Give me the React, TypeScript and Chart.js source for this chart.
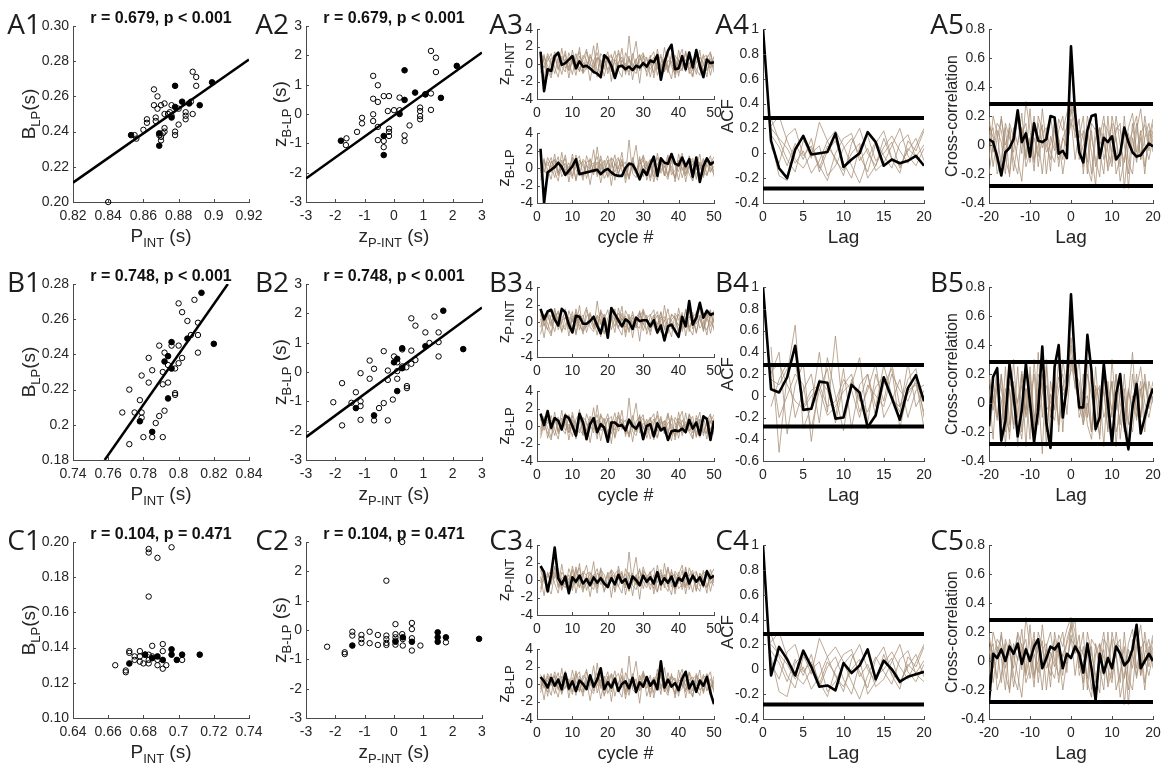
import React, { useEffect, useRef } from "react";
import { Chart, registerables } from "chart.js";
Chart.register(...registerables);

const FONT = "'Liberation Sans', Arial, Helvetica, sans-serif";
const LETTER_FONT = "'Open Sans', 'Noto Sans', sans-serif";
const TEXT = "#262626";
const AXIS = "#4a4a4a";
const TAN = "rgba(165,140,115,0.75)";
const PL = 85, PT = 45, PR = 35, PB = 48;
const YW = 45; // fixed width of the y tick-label band
const XH = 24; // fixed height of the x tick-label band

// ---------------- tick labels ----------------
const A1_XT = [0.82, 0.84, 0.86, 0.88, 0.9, 0.92];
const A1_XL = ["0.82", "0.84", "0.86", "0.88", "0.9", "0.92"];
const A1_YT = [0.2, 0.22, 0.24, 0.26, 0.28, 0.3];
const A1_YL = ["0.20", "0.22", "0.24", "0.26", "0.28", "0.30"];
const B1_XT = [0.74, 0.76, 0.78, 0.8, 0.82, 0.84];
const B1_XL = ["0.74", "0.76", "0.78", "0.8", "0.82", "0.84"];
const B1_YT = [0.18, 0.2, 0.22, 0.24, 0.26, 0.28];
const B1_YL = ["0.18", "0.2", "0.22", "0.24", "0.26", "0.28"];
const C1_XT = [0.64, 0.66, 0.68, 0.7, 0.72, 0.74];
const C1_XL = ["0.64", "0.66", "0.68", "0.7", "0.72", "0.74"];
const C1_YT = [0.1, 0.12, 0.14, 0.16, 0.18, 0.2];
const C1_YL = ["0.10", "0.12", "0.14", "0.16", "0.18", "0.20"];
const Z_T = [-3, -2, -1, 0, 1, 2, 3];
const Z_L = ["-3", "-2", "-1", "0", "1", "2", "3"];
const TS_XT = [0, 10, 20, 30, 40, 50];
const TS_XL = ["0", "10", "20", "30", "40", "50"];
const TS_YT = [-4, -2, 0, 2, 4];
const TS_YL = ["-4", "-2", "0", "2", "4"];
const ACF_XT = [0, 5, 10, 15, 20];
const ACF_XL = ["0", "5", "10", "15", "20"];
const ACF_YT = [-0.4, -0.2, 0, 0.2, 0.4, 0.6, 0.8, 1];
const ACF_YL = ["-0.4", "-0.2", "0", "0.2", "0.4", "0.6", "0.8", "1"];
const ACFB_YT = [-0.6, -0.4, -0.2, 0, 0.2, 0.4, 0.6, 0.8, 1];
const ACFB_YL = ["-0.6", "-0.4", "-0.2", "0", "0.2", "0.4", "0.6", "0.8", "1"];
const CC_XT = [-20, -10, 0, 10, 20];
const CC_XL = ["-20", "-10", "0", "10", "20"];
const CC_YT = [-0.4, -0.2, 0, 0.2, 0.4, 0.6, 0.8];
const CC_YL = ["-0.4", "-0.2", "0", "0.2", "0.4", "0.6", "0.8"];

const TITLES = ["r = 0.679, p < 0.001", "r = 0.748, p < 0.001", "r = 0.104, p = 0.471"];

// ---------------- scatter data ----------------
const A1_OPEN: [number, number][] = [
  [0.84, 0.2], [0.855, 0.238], [0.856, 0.236], [0.86, 0.241], [0.862, 0.245], [0.862, 0.247],
  [0.866, 0.264], [0.866, 0.255], [0.867, 0.246], [0.867, 0.248], [0.868, 0.26], [0.868, 0.253],
  [0.869, 0.238], [0.87, 0.255], [0.87, 0.235], [0.87, 0.237], [0.871, 0.239], [0.872, 0.256],
  [0.872, 0.25], [0.872, 0.242], [0.872, 0.24], [0.874, 0.25], [0.875, 0.251], [0.876, 0.255],
  [0.876, 0.249], [0.878, 0.24], [0.878, 0.238], [0.88, 0.244], [0.88, 0.253], [0.884, 0.251],
  [0.884, 0.249], [0.884, 0.247], [0.887, 0.257], [0.888, 0.25], [0.888, 0.274], [0.89, 0.271], [0.89, 0.266],
];
const A1_FILL: [number, number][] = [
  [0.853, 0.238], [0.869, 0.239], [0.869, 0.232], [0.876, 0.248], [0.878, 0.266],
  [0.878, 0.254], [0.882, 0.257], [0.886, 0.256], [0.892, 0.255], [0.899, 0.268],
];
const A1_REG: [number, number][] = [[0.82, 0.211], [0.92, 0.281]];

const A2_OPEN: [number, number][] = [
  [-1.62, -0.83], [-1.64, -1.06], [-1.09, -0.13], [-1.09, -0.32], [-1.26, -0.61], [-0.71, 1.3],
  [-0.71, 0.52], [-0.71, -0.01], [-0.71, -0.24], [-0.55, 0.98], [-0.55, 0.41], [-0.55, -0.44],
  [-0.55, -0.89], [-0.35, 0.61], [-0.35, -0.92], [-0.35, -1.13], [-0.17, 0.61], [-0.17, -0.5],
  [-0.17, -0.61], [-0.17, -0.75], [-0.21, 0.1], [0.0, 0.13], [0.19, 0.56], [0.19, 0.13],
  [0.36, -0.73], [0.36, -0.92], [0.53, -0.39], [0.89, 0.22], [0.89, 0.1], [0.89, -0.07],
  [0.89, -0.18], [1.07, 0.67], [1.26, 0.7], [1.26, 0.14], [1.26, 2.15], [1.43, 1.92], [1.43, 1.43],
];
const A2_FILL: [number, number][] = [
  [-1.81, -0.91], [-0.35, -0.75], [-0.35, -1.4], [0.19, 0.0], [0.36, 1.49], [0.36, 0.48],
  [0.72, 0.73], [1.07, 0.67], [1.6, 0.55], [2.14, 1.64],
];
const A2_REG: [number, number][] = [[-3, -2.2], [3, 2.1]];

const B1_OPEN: [number, number][] = [
  [0.772, 0.189], [0.768, 0.207], [0.772, 0.22], [0.775, 0.207], [0.778, 0.214], [0.779, 0.207],
  [0.779, 0.204], [0.78, 0.193], [0.779, 0.228], [0.783, 0.238], [0.783, 0.224], [0.785, 0.231],
  [0.785, 0.193], [0.787, 0.201], [0.789, 0.245], [0.789, 0.205], [0.791, 0.23], [0.791, 0.223],
  [0.792, 0.208], [0.792, 0.241], [0.794, 0.224], [0.791, 0.193], [0.794, 0.234], [0.796, 0.245],
  [0.798, 0.232], [0.798, 0.218], [0.798, 0.217], [0.8, 0.269], [0.8, 0.245], [0.8, 0.235],
  [0.802, 0.264], [0.802, 0.238], [0.805, 0.259], [0.807, 0.251], [0.809, 0.271], [0.811, 0.258],
  [0.811, 0.251], [0.811, 0.241],
];
const B1_FILL: [number, number][] = [
  [0.778, 0.202], [0.785, 0.196], [0.792, 0.236], [0.794, 0.239], [0.794, 0.215],
  [0.796, 0.247], [0.796, 0.232], [0.805, 0.249], [0.813, 0.275], [0.82, 0.246],
];
const B1_REG: [number, number][] = [[0.758, 0.18], [0.828, 0.28]];

const B2_OPEN: [number, number][] = [
  [-2.07, -1.03], [-1.77, -0.38], [-1.77, -1.82], [-1.45, -1.05], [-1.3, -0.69], [-1.14, -0.04],
  [-1.14, -1.0], [-1.14, -1.16], [-1.14, -1.63], [-0.83, 0.39], [-0.83, -0.23], [-0.68, 0.11],
  [-0.68, -1.65], [-0.51, -1.23], [-0.35, -1.06], [-0.35, 0.71], [-0.21, 0.05], [-0.21, -0.27],
  [-0.21, -1.65], [0.0, 0.53], [-0.04, -0.94], [0.11, 0.33], [0.11, -0.23], [0.11, 0.03],
  [0.28, 0.19], [0.28, 0.77], [0.42, 0.16], [0.44, -0.48], [0.44, -0.55], [0.59, 0.73],
  [0.59, 1.83], [0.59, 0.28], [0.73, 1.58], [0.73, 0.41], [1.07, 1.35], [1.21, 0.99],
  [1.38, 1.89], [1.52, 1.35], [1.52, 1.02], [1.52, 0.53],
];
const B2_FILL: [number, number][] = [
  [-1.3, -1.23], [-0.68, -1.48], [0.0, 0.33], [0.11, 0.45], [0.11, -0.65], [0.28, 0.81],
  [0.28, 0.13], [1.07, 0.88], [1.68, 2.09], [2.36, 0.78],
];
const B2_REG: [number, number][] = [[-3, -2.22], [3, 2.2]];

const C1_OPEN: [number, number][] = [
  [0.664, 0.13], [0.67, 0.126], [0.67, 0.127], [0.672, 0.138], [0.672, 0.137], [0.675, 0.135],
  [0.675, 0.133], [0.678, 0.138], [0.678, 0.135], [0.678, 0.132], [0.68, 0.131], [0.681, 0.136],
  [0.683, 0.196], [0.683, 0.194], [0.683, 0.169], [0.683, 0.136], [0.683, 0.133], [0.683, 0.131],
  [0.685, 0.141], [0.685, 0.135], [0.688, 0.191], [0.688, 0.133], [0.688, 0.13], [0.691, 0.142],
  [0.691, 0.138], [0.691, 0.128], [0.693, 0.13], [0.696, 0.197], [0.702, 0.133],
];
const C1_FILL: [number, number][] = [
  [0.672, 0.131], [0.681, 0.136], [0.685, 0.134], [0.688, 0.135], [0.691, 0.133],
  [0.696, 0.139], [0.696, 0.136], [0.699, 0.133], [0.702, 0.136], [0.712, 0.136],
];

const C2_OPEN: [number, number][] = [
  [-2.28, -0.57], [-1.68, -0.76], [-1.68, -0.82], [-1.42, -0.06], [-1.42, -0.19], [-1.11, -0.17],
  [-1.11, -0.31], [-1.11, -0.44], [-0.83, -0.06], [-0.83, -0.45], [-0.55, -0.17], [-0.55, -0.51],
  [-0.26, 1.68], [-0.26, -0.19], [-0.26, -0.31], [-0.26, -0.44], [-0.26, -0.51], [0.05, 0.2],
  [0.05, -0.14], [0.05, -0.25], [0.05, -0.36], [0.05, -0.5], [0.28, 3.0], [0.28, -0.14],
  [0.3, -0.31], [0.3, -0.53], [0.61, 0.24], [0.61, 0.03], [0.61, -0.28], [0.61, -0.7],
  [0.9, -0.53], [1.77, -0.42],
];
const C2_FILL: [number, number][] = [
  [-1.42, -0.53], [0.05, -0.4], [0.3, -0.25], [0.61, -0.4], [1.49, -0.08], [1.49, -0.25],
  [1.49, -0.4], [1.77, -0.25], [2.9, -0.3],
];

// ---------------- time series (cycle 1..50) ----------------
const A3_TOP = [1.4, -3.1, -0.6, -0.8, 0.9, 1.3, -0.1, 0.1, 0.5, 0.9, -0.5, 0.3, -0.3, -0.2, -0.5, -0.9, -1.1, -1.5, 1.0, 0.6, -0.2, -1.6, -0.3, -0.2, -0.6, -0.3, -0.7, -0.2, -0.4, 0.1, -0.3, 0.4, 0.2, 1.0, -1.8, 0.2, 1.5, 2.2, -0.6, -0.5, 0.9, -0.6, 1.3, -0.4, 1.6, -0.2, -1.5, 0.5, 0.1, 0.2];
const A3_BOT = [2.2, -4.0, -0.5, -0.2, 0.1, 0.6, 0.1, -0.8, -0.3, 0.2, 1.0, -0.7, -0.6, -0.5, -0.4, -0.3, -0.2, -0.7, -0.3, -0.1, -0.5, -0.8, -0.9, -0.9, 0.0, 0.5, 0.4, -0.3, -1.3, -0.2, -0.8, 0.4, 1.3, -0.9, 1.1, 0.6, 0.5, 1.6, 0.5, 0.3, 1.2, 0.2, 1.0, -1.0, 1.2, -1.6, 0.2, 1.1, 0.4, 0.7];
const B3_TOP = [1.5, 0.3, 1.2, 1.4, 0.3, -0.4, 1.5, 1.1, -0.3, -1.2, 0.7, 0.6, -0.2, -0.2, 0.1, 0.6, -0.4, -1.3, 0.4, -1.8, 1.6, 0.9, 0.2, -0.5, 0.3, 0.0, -0.8, 0.5, 0.1, 0.2, 0.2, -0.5, 0.2, -1.2, -0.4, -2.1, -0.5, -0.3, -1.0, -1.7, 0.6, -0.5, 2.4, -0.3, 0.5, 2.2, 0.5, 1.3, 0.8, 1.0];
const B3_BOT = [1.4, 0.1, 1.7, -0.2, 0.9, 0.6, -0.4, 1.2, 0.9, 0.0, -1.1, 1.4, 0.4, -1.5, 0.2, 0.9, -0.7, 0.2, -0.2, -1.8, 0.4, 0.4, 0.0, 0.1, -0.5, 0.7, 0.0, -0.3, 0.4, -1.5, 0.0, 0.2, -1.2, 0.3, -0.5, -0.2, -1.6, -0.6, -0.5, -0.6, -0.3, -0.7, 0.7, -0.3, 0.4, -1.0, 1.1, 0.8, -1.6, 0.6];
const C3_TOP = [1.6, 0.9, -1.3, 0.6, 3.7, 0.2, -0.5, 0.4, -1.5, 0.3, -0.2, 0.5, -0.4, 0.1, -0.6, 0.3, -0.3, 0.2, -0.4, -0.8, 0.2, -0.5, 0.6, -0.3, 0.1, -0.9, 0.4, 0.0, -0.6, 0.5, -0.2, 0.3, -0.4, 0.9, -0.5, 0.2, -0.3, 0.4, -0.7, 0.2, -0.1, 0.8, -0.4, 0.5, -0.2, 0.3, -0.6, 1.0, 0.2, 0.5];
const C3_BOT = [0.8, 0.3, -0.4, 0.7, -0.2, 0.5, -0.6, 1.2, -0.5, 0.3, -0.8, 0.4, 0.0, -0.6, 1.0, -0.3, 0.5, 1.8, -0.6, 0.2, -0.4, 0.6, -0.8, 0.0, 0.3, -0.5, 0.7, -0.9, 0.2, -0.3, 0.8, -0.2, 0.4, -0.6, 2.6, -0.4, 0.5, -0.3, 0.1, -0.7, 0.6, 1.4, -0.5, 0.3, -0.9, 0.4, -0.2, 0.8, -1.0, -2.3];

// thin tan traces of the other subjects (estimated)
const G1 = [0.8, -0.5, 1.2, 0.3, -1.1, 0.6, -0.2, 1.5, -0.8, 0.4, -1.3, 0.9, 0.2, -0.6, 1.1, -0.4, 0.7, -1.7, 0.3, 1.4, -0.9, 0.5, -0.1, 1.8, -1.2, 0.6, 0.0, -0.7, 1.0, -0.3, 0.8, -1.5, 0.4, 1.2, -0.6, 0.2, -1.0, 0.9, 0.5, -1.4, 0.7, -0.2, 1.3, -0.8, 0.1, 1.6, -1.1, 0.4, -0.5, 0.9];
const G2 = [-0.3, 1.1, -1.4, 0.6, 0.9, -0.7, 1.8, -0.5, 0.2, -1.2, 0.8, 1.4, -0.9, 0.3, -0.2, 2.1, -1.0, 0.5, -0.6, 0.9, -2.0, 0.7, 1.2, -0.4, 0.1, -1.3, 0.6, 2.6, -0.8, 0.3, -0.1, 1.0, -1.6, 0.5, 0.8, -0.9, 1.3, -0.3, -1.1, 0.6, 1.7, -0.7, 0.2, -1.4, 0.9, -0.2, 1.1, -0.8, 0.6, -0.4];
const G3 = [1.5, 0.2, -0.8, -1.6, 0.7, 1.0, -0.3, -0.9, 1.3, 0.1, -0.5, 1.9, -1.1, -0.4, 0.8, 0.3, -1.5, 1.2, 0.6, -0.7, 0.4, -1.2, 1.6, 0.0, -0.6, 0.9, -1.8, 0.5, 1.1, -0.2, -0.9, 0.7, 1.4, -1.3, 0.2, 0.6, -0.5, -1.7, 1.0, 0.3, -0.8, 1.5, -0.6, 0.4, -1.2, 0.8, 0.2, -1.5, 1.2, -0.1];
const G4 = [-1.0, 0.6, 0.3, 1.2, -0.4, -1.5, 0.9, 0.2, -0.7, 1.6, -0.2, -0.8, 1.0, 0.5, -1.9, 0.4, 1.3, -0.5, -0.3, 0.7, 1.1, -1.4, 0.2, 0.8, -0.9, 3.2, -0.6, -1.1, 0.4, 0.9, -0.5, 0.2, -1.0, 1.7, -0.3, 0.6, -0.8, 1.2, -1.6, 0.5, 0.1, -0.9, 1.4, 0.3, -0.6, -1.3, 0.8, 1.0, -0.4, 0.2];
const G5 = [0.4, -1.8, 0.9, -0.2, 1.4, 0.3, -1.2, 0.6, -0.4, 0.1, 1.2, -0.9, 0.5, 1.7, -0.6, -1.1, 0.8, 0.2, -1.4, 0.5, 0.9, 0.2, -0.7, -1.5, 1.3, 0.4, -0.3, 0.6, -2.2, 1.1, 0.5, -0.6, 0.0, 0.8, -1.2, 1.9, -0.4, 0.3, 0.7, -1.0, -0.5, 1.3, -1.1, 0.6, 1.0, -0.7, -0.2, 0.9, -1.3, 0.5];
const G6 = [-0.6, 0.9, -0.2, -1.3, 1.0, -0.5, 0.4, 1.1, -1.6, 0.7, 0.3, -0.4, -1.0, 1.4, 0.2, -0.8, 2.4, -0.3, 0.9, -1.1, 0.1, 1.5, -0.6, 0.4, -0.2, -0.9, 1.2, -0.4, 0.6, 1.3, -1.4, -0.1, 0.8, -0.6, 1.1, -0.9, 0.4, 0.2, -1.2, 1.6, -0.3, 0.5, -0.7, -1.5, 1.2, 0.3, -0.8, 0.6, 1.4, -1.0];
const G7 = [1.1, -0.2, -0.9, 0.8, 0.2, 1.3, -1.0, -0.3, 0.6, -0.9, 1.5, 0.0, -1.4, 0.7, 0.9, -0.5, -0.2, 1.0, -1.2, -0.4, 1.2, 0.6, -0.8, 1.0, -1.7, 0.3, 0.8, -0.4, -0.7, 1.5, 0.2, -1.1, 0.6, -0.3, 1.2, -0.6, -1.3, 0.9, 0.3, -0.4, 1.1, -1.6, 0.5, 0.8, -0.2, 0.4, -0.9, 1.2, 0.0, -0.7];
const G8 = [-1.4, 0.3, 0.7, -0.5, 1.6, -0.9, 0.2, 0.5, -0.3, 1.2, -1.5, 0.4, 0.8, -1.2, 0.3, 0.6, -0.7, 1.4, -0.2, -0.9, 0.6, -0.5, 1.0, 0.2, 0.7, -1.2, 0.5, -0.6, 1.3, -1.0, 0.4, 0.9, -0.5, -1.4, 0.6, 0.1, 1.5, -0.8, -0.3, 0.9, -1.1, 0.2, 0.6, 1.1, -1.3, 0.7, -0.4, -0.9, 0.5, 1.3];

// ---------------- ACF (lag 0..20) ----------------
const A4_ACF = [1.0, 0.1, -0.12, -0.2, 0.03, 0.14, -0.01, 0.0, 0.01, 0.16, -0.11, -0.05, 0.0, 0.17, 0.09, -0.1, -0.05, -0.08, -0.06, -0.02, -0.1];
const B4_ACF = [1.0, 0.06, 0.03, 0.17, 0.46, -0.13, -0.12, 0.13, 0.12, -0.21, -0.2, 0.1, 0.03, -0.29, -0.18, 0.17, -0.02, -0.22, 0.07, 0.19, -0.05];
const C4_ACF = [1.0, -0.05, 0.18, 0.08, -0.05, 0.15, 0.02, -0.14, -0.13, -0.17, 0.05, -0.03, 0.03, 0.16, -0.08, 0.07, 0.0, -0.1, -0.06, -0.04, -0.02];
// other subjects, lag 1..20
const K1 = [0.15, 0.05, -0.1, 0.08, -0.05, 0.12, -0.15, 0.02, 0.1, -0.08, -0.2, 0.05, 0.14, -0.06, 0.0, 0.09, -0.12, 0.04, -0.03, 0.07];
const K2 = [0.22, 0.3, 0.1, -0.05, -0.12, 0.0, 0.06, -0.18, -0.1, 0.04, 0.12, -0.02, -0.15, 0.08, 0.18, -0.04, -0.1, 0.02, 0.12, -0.06];
const K3 = [0.1, -0.18, -0.22, 0.05, 0.12, -0.04, 0.25, 0.1, -0.06, -0.14, 0.0, 0.08, -0.2, -0.1, 0.05, 0.14, 0.02, -0.08, 0.06, 0.2];
const K4 = [0.2, 0.12, 0.04, -0.08, 0.02, -0.16, -0.06, 0.1, 0.18, 0.06, -0.1, -0.24, -0.05, 0.1, -0.02, -0.12, 0.08, 0.15, -0.04, -0.1];
const K5 = [0.05, -0.08, 0.14, 0.2, -0.02, 0.06, -0.1, -0.22, 0.0, 0.12, 0.16, -0.06, 0.04, -0.14, -0.08, 0.06, 0.2, -0.02, -0.1, 0.04];
const K6 = [0.28, 0.1, -0.05, -0.15, 0.1, 0.04, -0.12, 0.06, -0.04, -0.18, 0.08, 0.2, 0.0, -0.1, 0.12, -0.05, -0.16, 0.1, 0.02, 0.18];
const L1 = [0.45, -0.52, 0.2, 0.65, -0.3, -0.1, 0.4, -0.15, 0.55, -0.2, 0.1, 0.35, -0.25, 0.2, -0.05, 0.3, -0.1, 0.15, 0.25, -0.2];
const L2 = [0.2, 0.4, -0.35, 0.1, 0.3, -0.42, 0.15, 0.05, -0.2, 0.25, -0.3, 0.1, 0.2, -0.1, 0.28, 0.0, -0.15, 0.3, -0.1, 0.05];
const L3 = [-0.1, 0.15, 0.3, -0.2, 0.05, 0.2, -0.25, 0.35, 0.0, -0.32, 0.15, -0.05, 0.2, -0.2, 0.1, 0.25, -0.3, 0.05, 0.1, -0.15];
const L4 = [0.15, 0.1, 0.25, 0.3, -0.1, 0.05, 0.1, -0.1, -0.05, 0.15, 0.05, -0.2, 0.1, 0.0, -0.1, 0.2, 0.05, -0.05, 0.15, -0.3];
const L5 = [0.3, -0.2, 0.0, 0.2, 0.1, -0.3, 0.05, 0.25, -0.25, 0.1, 0.2, -0.15, 0.05, 0.3, -0.2, -0.05, 0.15, -0.2, 0.05, 0.1];

// ---------------- cross-correlation (lag -20..20) ----------------
const A5_CC = [0.04, 0.02, -0.08, -0.21, -0.05, -0.02, 0.04, 0.24, 0.02, 0.08, -0.08, 0.15, 0.03, 0.02, 0.04, 0.2, 0.19, -0.06, -0.04, -0.09, 0.68, 0.22, -0.05, -0.12, 0.1, 0.2, 0.21, -0.09, 0.05, 0.02, 0.06, -0.1, -0.06, 0.12, 0.02, -0.05, -0.08, -0.07, -0.03, 0.01, -0.01];
const B5_CC = [-0.16, 0.18, 0.24, -0.26, -0.12, 0.27, 0.05, -0.23, -0.05, 0.27, 0.0, -0.27, -0.04, 0.39, -0.14, -0.31, 0.25, 0.4, -0.1, 0.12, 0.75, 0.27, -0.03, -0.03, 0.47, 0.22, -0.18, -0.1, 0.27, 0.0, -0.28, 0.06, 0.2, -0.14, -0.32, -0.03, 0.13, -0.21, -0.1, 0.02, 0.1];
const C5_CC = [-0.28, 0.05, 0.02, 0.08, 0.0, 0.1, 0.05, 0.12, -0.02, 0.08, 0.0, 0.1, 0.15, -0.05, 0.02, 0.1, 0.08, 0.12, -0.05, 0.05, 0.02, 0.1, 0.05, -0.08, 0.12, -0.05, -0.27, 0.05, -0.08, 0.02, -0.05, 0.1, 0.05, -0.03, 0.0, 0.08, 0.25, -0.05, 0.0, 0.05, 0.0];
const X1 = [0.15, 0.05, -0.12, 0.2, -0.05, 0.1, -0.18, 0.02, 0.12, -0.08, 0.25, -0.1, 0.0, 0.14, -0.2, 0.06, -0.04, 0.18, 0.1, 0.22, 0.3, 0.2, -0.05, 0.1, -0.15, -0.25, 0.05, 0.12, -0.1, 0.0, 0.15, -0.2, -0.08, 0.1, -0.3, 0.05, -0.12, 0.08, 0.14, -0.04, 0.1];
const X2 = [-0.1, 0.2, 0.08, -0.15, 0.12, -0.22, 0.05, 0.18, -0.06, 0.3, 0.1, -0.12, 0.15, -0.02, 0.08, -0.18, 0.2, 0.04, -0.1, 0.15, 0.25, 0.05, 0.18, -0.2, 0.1, -0.05, -0.28, 0.12, 0.02, -0.15, 0.2, 0.05, -0.25, -0.1, 0.12, 0.22, -0.05, 0.1, -0.15, 0.05, 0.18];
const X3 = [0.2, -0.05, 0.1, 0.02, -0.2, 0.15, 0.05, -0.1, -0.25, 0.1, 0.0, 0.2, -0.15, 0.08, 0.12, -0.05, -0.12, 0.1, 0.2, -0.08, 0.28, 0.12, 0.0, -0.15, 0.2, 0.05, -0.1, -0.22, 0.15, 0.1, -0.05, 0.05, -0.15, 0.2, -0.12, -0.2, 0.1, 0.25, 0.0, -0.1, 0.05];
const X4 = [0.05, 0.12, -0.2, -0.1, 0.15, 0.05, -0.05, 0.2, 0.1, -0.15, -0.05, 0.15, 0.05, -0.2, 0.1, 0.2, 0.0, -0.1, 0.05, -0.02, 0.18, -0.1, 0.1, 0.05, -0.12, 0.15, 0.1, -0.05, -0.2, 0.2, -0.12, 0.1, 0.15, -0.3, 0.0, 0.1, 0.2, -0.1, 0.05, 0.15, -0.05];
const X5 = [-0.2, 0.0, 0.15, 0.1, -0.1, -0.2, 0.12, 0.0, 0.22, -0.1, 0.05, -0.18, 0.2, 0.1, -0.05, 0.0, 0.15, -0.15, 0.05, 0.12, 0.22, 0.28, -0.1, 0.0, 0.05, -0.2, 0.12, 0.0, 0.08, -0.18, -0.05, 0.2, 0.0, -0.12, 0.08, -0.05, 0.15, -0.1, 0.2, 0.0, 0.15];
const X6 = [0.1, -0.15, 0.05, 0.18, 0.0, 0.12, -0.1, -0.2, 0.08, 0.15, -0.12, 0.05, -0.08, 0.25, 0.0, -0.1, 0.1, 0.05, -0.2, 0.0, 0.15, 0.1, 0.05, 0.2, -0.2, 0.1, -0.15, 0.05, 0.2, -0.05, -0.15, 0.12, 0.1, 0.0, -0.2, 0.15, -0.1, 0.05, -0.2, 0.1, 0.05];
const O1 = [0.1, -0.25, 0.2, -0.2, 0.25, -0.15, 0.3, -0.1, 0.2, -0.3, 0.15, -0.2, 0.35, -0.1, 0.25, -0.3, 0.2, -0.15, 0.3, 0.1, 0.45, 0.2, 0.15, -0.1, 0.3, -0.2, 0.1, -0.25, 0.2, -0.1, 0.15, -0.3, 0.1, -0.2, 0.05, 0.35, -0.1, 0.1, -0.2, 0.15, 0.0];
const O2 = [-0.2, 0.15, -0.1, 0.2, -0.3, 0.1, -0.15, 0.25, -0.2, 0.1, -0.25, 0.3, -0.1, 0.2, -0.3, 0.15, -0.05, 0.3, -0.2, 0.2, 0.3, 0.35, -0.05, 0.2, -0.1, 0.25, -0.2, 0.1, -0.3, 0.15, -0.1, 0.2, -0.25, 0.05, -0.15, 0.2, -0.05, 0.15, -0.1, 0.05, 0.1];
const O3 = [0.2, 0.0, 0.25, -0.15, 0.1, -0.25, 0.15, -0.3, 0.2, -0.05, 0.2, -0.15, 0.1, -0.35, 0.3, -0.1, 0.25, -0.2, 0.1, 0.05, 0.4, 0.1, 0.3, -0.15, 0.0, -0.2, 0.25, -0.1, 0.1, -0.2, 0.3, -0.05, 0.2, -0.15, 0.1, -0.05, 0.2, -0.1, 0.15, 0.0, 0.05];

const CONF = [0.283, -0.283];

// ---------------- helpers ----------------
type Rich = { t: string; s: number; dy?: number }[];
type Ax = { min: number; max: number; ticks: number[]; labels: string[] };
type PanelCfg = {
  id: string; x: number; y: number; w: number; h: number;
  xAx: Ax; yAx: Ax; layers: any[];
  letter?: [string, number, number];
  title?: string;
  xTitle?: Rich; yTitle?: Rich; yDx?: number; xDy?: number;
};

const pts = (a: [number, number][]) => a.map(([x, y]) => ({ x, y }));
const seq = (vals: number[], start: number) => vals.map((y, i) => ({ x: start + i, y }));
const openDS = (a: [number, number][]) => ({
  data: pts(a), showLine: false, pointRadius: 2.7, pointBorderWidth: 1,
  pointBorderColor: "#000", pointBackgroundColor: "rgba(0,0,0,0)", borderColor: "#000", clip: false,
});
const fillDS = (a: [number, number][]) => ({
  data: pts(a), showLine: false, pointRadius: 2.8, pointBorderWidth: 1,
  pointBorderColor: "#000", pointBackgroundColor: "#000", borderColor: "#000", clip: false,
});
const lineDS = (data: { x: number; y: number }[], color: string, width: number) => ({
  data, borderColor: color, borderWidth: width, pointRadius: 0, tension: 0, fill: false,
  borderJoinStyle: "round", borderCapStyle: "butt",
});
const confDS = (x0: number, x1: number, v: number) =>
  lineDS([{ x: x0, y: v }, { x: x1, y: v }], "#000", 4);

const ax = (min: number, max: number, ticks: number[], labels: string[]): Ax => ({ min, max, ticks, labels });

const T = (t: string, s: number, dy = 0) => ({ t, s, dy });
const P_INT: Rich = [T("P", 19), T("INT", 13, 5), T(" (s)", 19)];
const B_LP: Rich = [T("B", 19), T("LP", 13, 5), T("(s)", 19)];
const ZP_S: Rich = [T("z", 19), T("P-INT", 13, 5), T(" (s)", 19)];
const ZB_S: Rich = [T("z", 19), T("B-LP", 13, 5), T(" (s)", 19)];
const ZP: Rich = [T("z", 17), T("P-INT", 13, 5)];
const ZB: Rich = [T("z", 17), T("B-LP", 13, 5)];
const CYCLE: Rich = [T("cycle #", 18)];
const LAG: Rich = [T("Lag", 19)];
const ACF_T: Rich = [T("ACF", 17)];
const CC_T: Rich = [T("Cross-correlation", 16)];

// geometry
const COL_X = [73, 306, 537, 763, 989];
const COL_W = [176, 176, 177, 161, 164];
const ROW_OFF = [0, 258, 516];
const LETTER_R = [41, 289, 523, 749, 964];
const ROWS = ["A", "B", "C"];
const XT_DY = 40;

const SCAT = [
  { x1: ax(0.82, 0.92, A1_XT, A1_XL), y1: ax(0.2, 0.3, A1_YT, A1_YL), o1: A1_OPEN, f1: A1_FILL, r1: A1_REG as [number, number][] | null, o2: A2_OPEN, f2: A2_FILL, r2: A2_REG as [number, number][] | null },
  { x1: ax(0.74, 0.84, B1_XT, B1_XL), y1: ax(0.18, 0.28, B1_YT, B1_YL), o1: B1_OPEN, f1: B1_FILL, r1: B1_REG, o2: B2_OPEN, f2: B2_FILL, r2: B2_REG },
  { x1: ax(0.64, 0.74, C1_XT, C1_XL), y1: ax(0.1, 0.2, C1_YT, C1_YL), o1: C1_OPEN, f1: C1_FILL, r1: null, o2: C2_OPEN, f2: C2_FILL, r2: null },
];
const TS = [
  { top: A3_TOP, bot: A3_BOT, gTop: [G1, G2, G3, G4, G5, G6], gBot: [G6, G7, G8, G2, G4, G1] },
  { top: B3_TOP, bot: B3_BOT, gTop: [G3, G5, G6, G7, G1, G8], gBot: [G8, G1, G4, G6, G2, G3] },
  { top: C3_TOP, bot: C3_BOT, gTop: [G2, G7, G3, G8, G5, G4], gBot: [G4, G6, G1, G5, G7, G2] },
];
const ACFS = [
  { black: A4_ACF, gray: [K1, K2, K3, K4, K5, K6], yT: ACF_YT, yL: ACF_YL, min: -0.4 },
  { black: B4_ACF, gray: [L1, L2, L3, L4, L5, K2], yT: ACFB_YT, yL: ACFB_YL, min: -0.6 },
  { black: C4_ACF, gray: [K4, K6, K1, K3, K5, K2], yT: ACF_YT, yL: ACF_YL, min: -0.4 },
];
const CCS = [
  { black: A5_CC, gray: [X1, X2, X3, X4, X5, X6] },
  { black: B5_CC, gray: [O1, O2, O3, X1, X3, X5] },
  { black: C5_CC, gray: [X2, X4, X6, X1, X3, X5] },
];

function buildPanels(): PanelCfg[] {
  const out: PanelCfg[] = [];
  ROWS.forEach((R, r) => {
    const off = ROW_OFF[r];
    const S = SCAT[r];
    const lb = 34 + off;
    const l1: any[] = [openDS(S.o1), fillDS(S.f1)];
    if (S.r1) l1.push(lineDS(pts(S.r1), "#000", 2.5));
    out.push({
      id: R + "1", x: COL_X[0], y: 26 + off, w: COL_W[0], h: 176,
      xAx: S.x1, yAx: S.y1, layers: l1, letter: [R + "1", LETTER_R[0], lb],
      title: TITLES[r], xTitle: P_INT, yTitle: B_LP, yDx: 38, xDy: XT_DY,
    });
    const l2: any[] = [openDS(S.o2), fillDS(S.f2)];
    if (S.r2) l2.push(lineDS(pts(S.r2), "#000", 2.5));
    out.push({
      id: R + "2", x: COL_X[1], y: 26 + off, w: COL_W[1], h: 176,
      xAx: ax(-3, 3, Z_T, Z_L), yAx: ax(-3, 3, Z_T, Z_L), layers: l2, letter: [R + "2", LETTER_R[1], lb],
      title: TITLES[r], xTitle: ZP_S, yTitle: ZB_S, yDx: 20, xDy: XT_DY,
    });
    const ts = TS[r];
    out.push({
      id: R + "3t", x: COL_X[2], y: 29 + off, w: COL_W[2], h: 70,
      xAx: ax(0, 50, TS_XT, TS_XL), yAx: ax(-4, 4, TS_YT, TS_YL),
      layers: [...ts.gTop.map((g) => lineDS(seq(g, 1), TAN, 1)), lineDS(seq(ts.top, 1), "#000", 2.6)],
      letter: [R + "3", LETTER_R[2], lb], yTitle: ZP, yDx: 28,
    });
    out.push({
      id: R + "3b", x: COL_X[2], y: 133 + off, w: COL_W[2], h: 70,
      xAx: ax(0, 50, TS_XT, TS_XL), yAx: ax(-4, 4, TS_YT, TS_YL),
      layers: [...ts.gBot.map((g) => lineDS(seq(g, 1), TAN, 1)), lineDS(seq(ts.bot, 1), "#000", 2.6)],
      yTitle: ZB, yDx: 28, xTitle: CYCLE, xDy: XT_DY,
    });
    const A = ACFS[r];
    out.push({
      id: R + "4", x: COL_X[3], y: 29 + off, w: COL_W[3], h: 174,
      xAx: ax(0, 20, ACF_XT, ACF_XL), yAx: ax(A.min, 1, A.yT, A.yL),
      layers: [
        ...A.gray.map((g) => lineDS(seq(g, 1), TAN, 1)),
        lineDS(seq(A.black, 0), "#000", 2.6),
        confDS(0, 20, CONF[0]), confDS(0, 20, CONF[1]),
      ],
      letter: [R + "4", LETTER_R[3], lb], xTitle: LAG, xDy: XT_DY, yTitle: ACF_T, yDx: 30,
    });
    const C = CCS[r];
    out.push({
      id: R + "5", x: COL_X[4], y: 29 + off, w: COL_W[4], h: 174,
      xAx: ax(-20, 20, CC_XT, CC_XL), yAx: ax(-0.4, 0.8, CC_YT, CC_YL),
      layers: [
        ...C.gray.map((g) => lineDS(seq(g, -20), TAN, 1)),
        lineDS(seq(C.black, -20), "#000", 2.6),
        confDS(-20, 20, CONF[0]), confDS(-20, 20, CONF[1]),
      ],
      letter: [R + "5", LETTER_R[4], lb], xTitle: LAG, xDy: XT_DY, yTitle: CC_T, yDx: 32,
    });
  });
  return out;
}

function drawRich(ctx: CanvasRenderingContext2D, parts: Rich, cx: number, cy: number, rot: number) {
  ctx.save();
  ctx.translate(cx, cy);
  ctx.rotate(rot);
  let total = 0;
  const widths = parts.map((p) => {
    ctx.font = `${p.s}px ${FONT}`;
    const w = ctx.measureText(p.t).width;
    total += w;
    return w;
  });
  let x = -total / 2;
  ctx.textAlign = "left";
  ctx.textBaseline = "alphabetic";
  ctx.fillStyle = TEXT;
  parts.forEach((p, i) => {
    ctx.font = `${p.s}px ${FONT}`;
    ctx.fillText(p.t, x, p.dy || 0);
    x += widths[i];
  });
  ctx.restore();
}

function makeAxis(a: Ax, isX: boolean) {
  return {
    type: "linear",
    min: a.min,
    max: a.max,
    grid: { display: false, drawTicks: false },
    border: { display: true, color: AXIS, width: 1 },
    ticks: {
      autoSkip: false, maxRotation: 0, minRotation: 0, padding: isX ? 6 : 4,
      color: TEXT, font: { family: FONT, size: 14 },
      callback: (_v: any, i: number) => a.labels[i],
    },
    afterBuildTicks: (s: any) => { s.ticks = a.ticks.map((v) => ({ value: v })); },
    afterFit: (s: any) => { if (isX) s.height = XH; else s.width = YW; },
  };
}

function PanelView({ p }: { p: PanelCfg }) {
  const ref = useRef<HTMLCanvasElement | null>(null);
  const W = p.w + PL + PR;
  const H = p.h + PT + PB;
  const left = p.x - PL;
  const top = p.y - PT;
  useEffect(() => {
    if (!ref.current) return;
    const n = p.layers.length;
    const datasets = p.layers.map((d, i) => ({ ...d, order: n - i }));
    const paper = {
      id: "paper",
      afterDraw(chart: any) {
        const ctx: CanvasRenderingContext2D = chart.ctx;
        const ca = chart.chartArea;
        const xs = chart.scales.x;
        const ys = chart.scales.y;
        ctx.save();
        ctx.strokeStyle = AXIS;
        ctx.lineWidth = 1;
        ctx.beginPath();
        p.xAx.ticks.forEach((v) => {
          const px = Math.round(xs.getPixelForValue(v)) + 0.5;
          ctx.moveTo(px, ca.bottom);
          ctx.lineTo(px, ca.bottom - 3);
        });
        p.yAx.ticks.forEach((v) => {
          const py = Math.round(ys.getPixelForValue(v)) + 0.5;
          ctx.moveTo(ca.left, py);
          ctx.lineTo(ca.left + 3, py);
        });
        ctx.stroke();
        if (p.letter) {
          ctx.font = `28px ${LETTER_FONT}`;
          ctx.fillStyle = "#1e1e1e";
          ctx.textAlign = "right";
          ctx.textBaseline = "alphabetic";
          ctx.fillText(p.letter[0], p.letter[1] - left, p.letter[2] - top);
        }
        if (p.title) {
          ctx.font = `bold 16px ${FONT}`;
          ctx.fillStyle = "#111";
          ctx.textAlign = "center";
          ctx.textBaseline = "alphabetic";
          ctx.fillText(p.title, (ca.left + ca.right) / 2, ca.top - 3);
        }
        if (p.xTitle) drawRich(ctx, p.xTitle, (ca.left + ca.right) / 2, ca.bottom + (p.xDy || 30), 0);
        if (p.yTitle) drawRich(ctx, p.yTitle, ca.left - (p.yDx || 30), (ca.top + ca.bottom) / 2, -Math.PI / 2);
        ctx.restore();
      },
    };
    const chart = new Chart(ref.current, {
      type: "line",
      data: { datasets } as any,
      options: {
        animation: false,
        responsive: false,
        maintainAspectRatio: false,
        devicePixelRatio: 1,
        events: [],
        layout: { padding: { left: PL - YW, top: PT, right: PR, bottom: PB - XH } },
        plugins: { legend: { display: false }, tooltip: { enabled: false }, title: { display: false } },
        scales: { x: makeAxis(p.xAx, true), y: makeAxis(p.yAx, false) } as any,
      },
      plugins: [paper],
    } as any);
    return () => chart.destroy();
  }, [p]);
  return (
    <canvas
      ref={ref}
      width={W}
      height={H}
      style={{ position: "absolute", left, top, width: W, height: H }}
    />
  );
}

const PANELS = buildPanels();

export default function App() {
  return (
    <div style={{ position: "absolute", left: 0, top: 0, width: 1165, height: 763, background: "#fff", overflow: "hidden" }}>
      {PANELS.map((p) => (
        <PanelView key={p.id} p={p} />
      ))}
    </div>
  );
}
